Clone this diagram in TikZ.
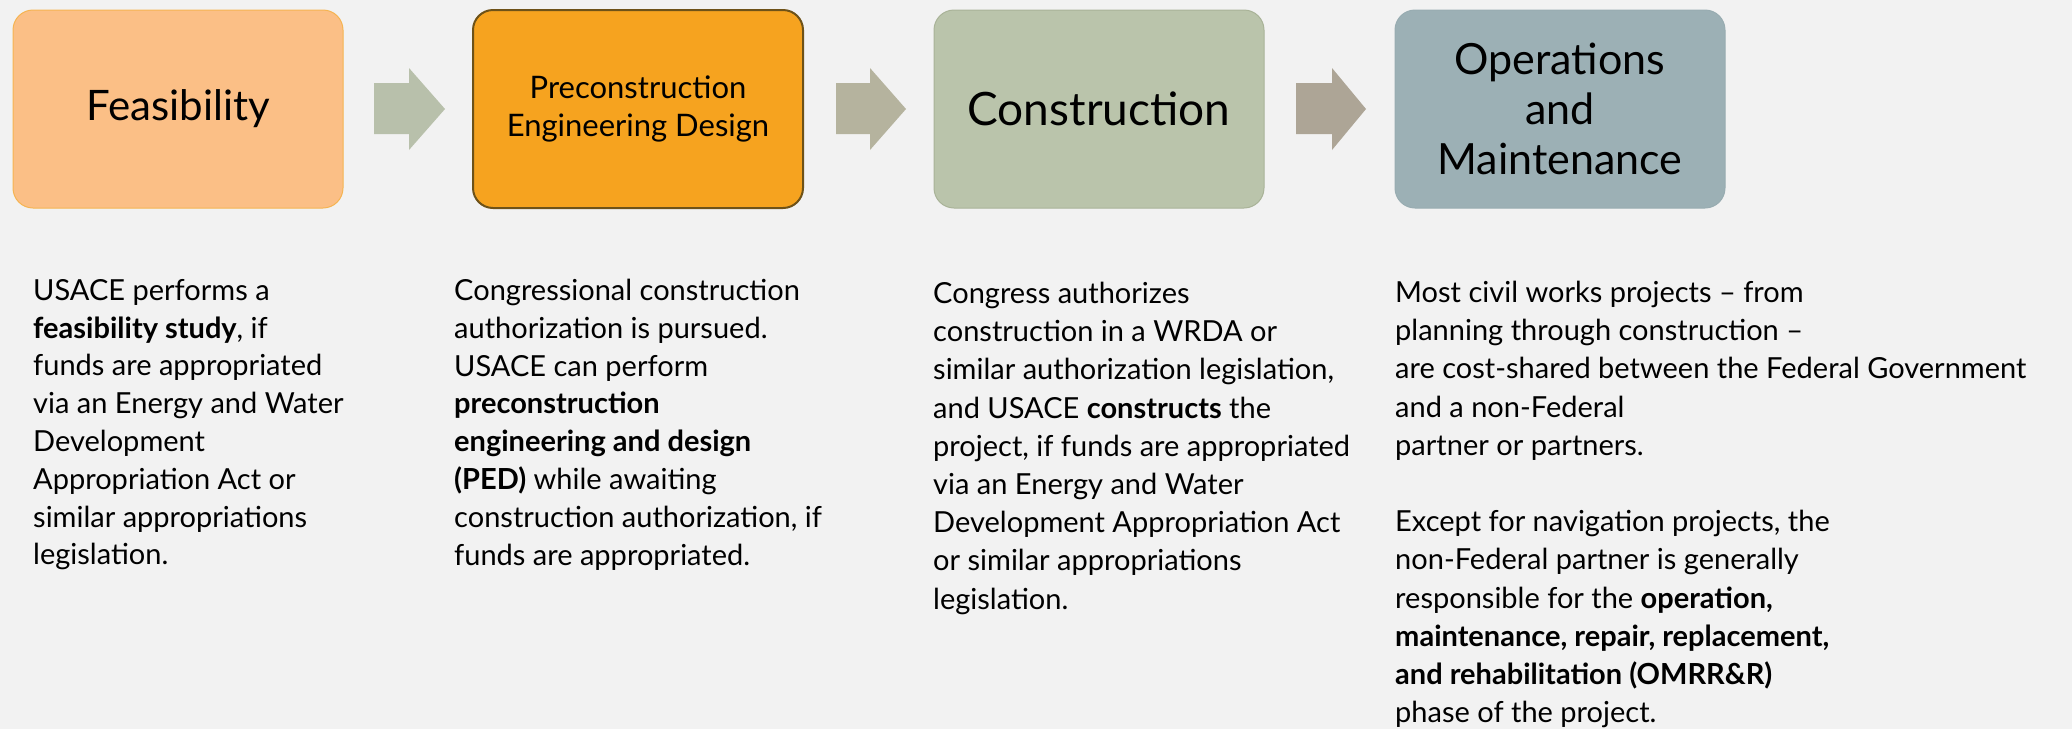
\documentclass[tikz,border=0pt]{standalone}
\usepackage{fontspec}
\setmainfont{Lato}
\definecolor{bg}{HTML}{F2F2F2}
\definecolor{feasfill}{HTML}{FBBF86}
\definecolor{feasline}{HTML}{F5B452}
\definecolor{pedfill}{HTML}{F6A31F}
\definecolor{pedline}{HTML}{6E5218}
\definecolor{consfill}{HTML}{BAC4AB}
\definecolor{consline}{HTML}{A9B398}
\definecolor{omfill}{HTML}{9CB0B5}
\definecolor{omline}{HTML}{98ACB1}
\definecolor{arrA}{HTML}{B8C0AB}
\definecolor{arrB}{HTML}{B5B39E}
\definecolor{arrC}{HTML}{ADA596}
\tikzset{
  phase/.style={rounded corners=20pt, minimum width=330pt, minimum height=198pt, inner sep=0pt, align=center, text=black},
  bodytext/.style={anchor=north west, inner sep=0pt, align=left, font=\fontsize{29}{37.8}\selectfont, text=black},
  widetext/.style={bodytext, font=\fontsize{29}{38.2}\selectfont}
}
\begin{document}
\begin{tikzpicture}[x=1pt,y=-1pt]
\useasboundingbox (0,0) rectangle (2072,729);
\fill[bg] (0,0) rectangle (2072,729);
% phase boxes
\node[phase, fill=feasfill, draw=feasline, line width=1pt, font=\fontsize{42}{50}\selectfont] (feas) at (178,109) {Feasibility};
\node[phase, fill=pedfill, draw=pedline, line width=2pt, font=\fontsize{31}{38}\selectfont] (ped) at (638,109) {Preconstruction\\Engineering Design};
\node[phase, fill=consfill, draw=consline, line width=1pt, font=\fontsize{46}{50}\selectfont] (cons) at (1099,109) {Construction};
\node[phase, fill=omfill, draw=omline, line width=1pt, font=\fontsize{43}{50}\selectfont] (om) at (1560,109) {Operations\\and\\Maintenance};
% block arrows
\fill[arrA] (374,83) -- (409,83) -- (409,68) -- (445,109) -- (409,150) -- (409,134) -- (374,134) -- cycle;
\fill[arrB] (836,83) -- (870,83) -- (870,68) -- (906,109) -- (870,150) -- (870,134) -- (836,134) -- cycle;
\fill[arrC] (1296,83) -- (1332,83) -- (1332,68) -- (1366,109) -- (1332,150) -- (1332,134) -- (1296,134) -- cycle;
% descriptions
\node[bodytext] (t1) at (33,279) {USACE performs a\\\textbf{feasibility study}, if\\funds are appropriated\\via an Energy and Water\\Development\\Appropriation Act or\\similar appropriations\\legislation.};
\node[bodytext] (t2) at (454,279) {Congressional construction\\authorization is pursued.\\USACE can perform\\\textbf{preconstruction}\\\textbf{engineering and design}\\\textbf{(PED)} while awaiting\\construction authorization, if\\funds are appropriated.};
\node[widetext] (t3) at (933,282) {Congress authorizes\\construction in a WRDA or\\similar authorization legislation,\\and USACE \textbf{constructs} the\\project, if funds are appropriated\\via an Energy and Water\\Development Appropriation Act\\or similar appropriations\\legislation.};
\node[widetext] (t4) at (1395,281) {Most civil works projects -- from\\planning through construction --\\are cost-shared between the Federal Government\\and a non-Federal\\partner or partners.\\[38.2pt]Except for navigation projects, the\\non-Federal partner is generally\\responsible for the \textbf{operation,}\\\textbf{maintenance, repair, replacement,}\\\textbf{and rehabilitation (OMRR\&R)}\\phase of the project.};
\end{tikzpicture}
\end{document}
